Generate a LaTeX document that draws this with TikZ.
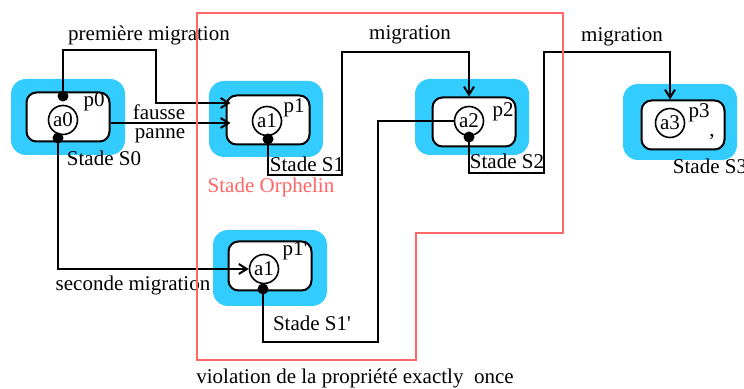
\documentclass[tikz,border=0pt]{standalone}
\usepackage{fontspec}
\setmainfont{Liberation Serif}
\usetikzlibrary{arrows.meta}

\definecolor{haloblue}{RGB}{51,204,255}
\definecolor{zonered}{RGB}{255,102,102}

\begin{document}
\begin{tikzpicture}[x=0.5pt,y=-0.5pt,font=\fontsize{10.5}{12}\selectfont,
  halo/.style={fill=haloblue,rounded corners=7.5pt,minimum width=57pt,minimum height=38pt,inner sep=0pt},
  proc/.style={draw,line width=1pt,fill=white,rounded corners=5pt,minimum width=41.5pt,minimum height=24.5pt,inner sep=0pt},
  agent/.style={draw,circle,line width=0.8pt,minimum size=14.5pt,inner sep=0pt},
  dot/.style={circle,fill,minimum size=5.5pt,inner sep=0pt},
  flow/.style={line width=1pt},
  >={Straight Barb[length=4pt,width=5pt]}]

  \useasboundingbox (0,0) rectangle (744,389);

  % Stages: halo, process box, agent
  \foreach \s/\hx/\hy/\bx/\by/\cx/\cy/\a in {0/68/117/68/117/63/120/a0, 1/266/119/268/120/267/121/a1,
      2/472/117/474/122/469/121/a2, 3/680/122/683/125/670/123/a3, 1b/270/268/270/266/264/269/a1}
  {
    \node[halo] (h\s) at (\hx,\hy) {};
    \node[proc] (p\s) at (\bx,\by) {};
    \node[agent] (a\s) at (\cx,\cy) {\a};
  }

  % process labels
  \node (lp0) at (94,102) {p0};
  \node (lp1) at (294,108) {p1};
  \node (lp2) at (503,112) {p2};
  \node (lp3) at (699,113) {p3};
  \node (lc3) at (712,137) {,};
  \node (lp1b) at (295,251) {p1\textquotesingle};

  % stage labels
  \node (s0) at (104,158) {Stade S0};
  \node (s1) at (307,164) {Stade S1};
  \node (s2) at (507,161) {Stade S2};
  \node (s3) at (710,166) {Stade S3};
  \node (s1b) at (312,323) {Stade S1\textquotesingle};
  \node[text=zonered] (orph) at (271,187) {Stade Orphelin};

  % ports
  \node[dot] (d0t) at (63,96) {};
  \node[dot] (d0b) at (58,138) {};
  \node[dot] (d1) at (268,139) {};
  \node[dot] (d2) at (469,137) {};
  \node[dot] (d1b) at (263,289) {};

  % flows
  \draw[flow,->,shorten >=-2.5pt] (d0t.center) |- (156,50) |- (p1.west |- 0,103);
  \node (m0) at (149,35) {première migration};
  \draw[flow,->,shorten >=-2.5pt] (p0.east |- 0,123) -- (p1.west |- 0,123);
  \node[inner sep=0pt,anchor=base] (fp1) at (159,120) {fausse};
  \node[inner sep=0pt,anchor=base] (fp2) at (160,139) {panne};
  \draw[flow,->] (d1.center) |- (342,175) -- (342,52) -| (a2.center |- p2.north);
  \node (m1) at (410,35) {migration};
  \draw[flow,->] (d2.center) |- (544,173) -- (544,52) -| (a3.center |- p3.north);
  \node (m2) at (622,37) {migration};
  \draw[flow] (a2.west) -| (378,342) -| (d1b.center);
  \draw[flow,->] (d0b.center) |- (a1b.west);
  \node (m3) at (133,285) {seconde migration};

  % zone
  \draw[zonered,line width=1pt] (197,13) -- (563,13) -- (563,233) -- (416,233) -- (416,360) -- (197,360) -- cycle;
  \node (viol) at (355,378) {violation de la propriété exactly\ \ once};

\end{tikzpicture}
\end{document}
